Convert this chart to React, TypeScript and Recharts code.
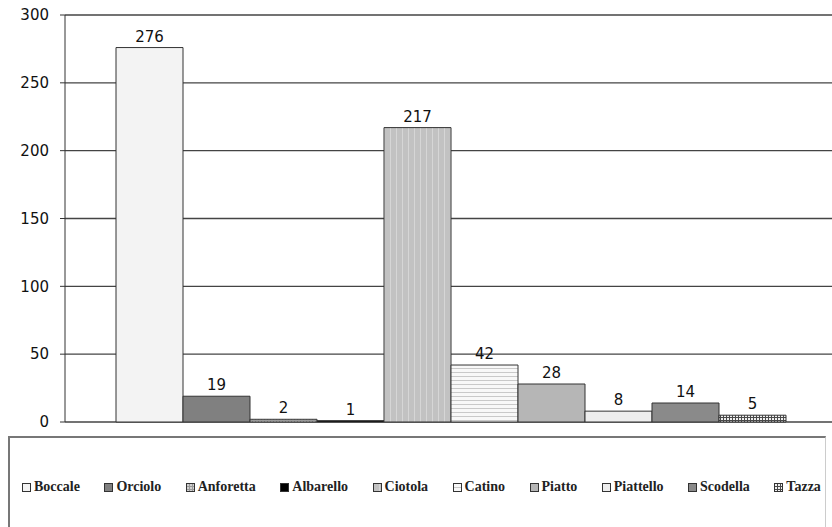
import React from 'react';
import { BarChart, Bar, XAxis, YAxis, CartesianGrid, Legend, LabelList } from 'recharts';

const categories = ['Boccale', 'Orciolo', 'Anforetta', 'Albarello', 'Ciotola', 'Catino', 'Piatto', 'Piattello', 'Scodella', 'Tazza'];
const values = [276, 19, 2, 1, 217, 42, 28, 8, 14, 5];
const yTicks = [0, 50, 100, 150, 200, 250, 300];

const fills: Record<string, string> = {
  Boccale: '#f3f3f3',
  Orciolo: '#808080',
  Anforetta: 'url(#patAnf)',
  Albarello: '#000000',
  Ciotola: 'url(#patCio)',
  Catino: 'url(#patCat)',
  Piatto: '#b6b6b6',
  Piattello: '#ededed',
  Scodella: '#8a8a8a',
  Tazza: 'url(#patTaz)',
};

const row: Record<string, number | string> = { name: 'all' };
categories.forEach((c, i) => {
  row[c] = values[i];
});
const data = [row];

const sansFont = '"DejaVu Sans", Verdana, sans-serif';

const LegendBox = () => {
  return (
    <div style={{ paddingTop: 14, width: 832, height: 91, boxSizing: 'content-box' }}>
      <div
        style={{
          marginLeft: 8,
          width: 818,
          height: 100,
          borderLeft: '2px solid #777',
          borderTop: '2px solid #777',
          borderRight: '1px solid #ccc',
          display: 'flex',
          alignItems: 'center',
          paddingLeft: 12,
          boxSizing: 'border-box',
          fontFamily: '"Liberation Serif", "Times New Roman", serif',
          fontWeight: 'bold',
          fontSize: 14,
          color: '#222',
        }}
      >
        {categories.map((c) => (
          <span key={c} style={{ display: 'inline-flex', alignItems: 'center', marginRight: 24.5, whiteSpace: 'nowrap' }}>
            <svg width={9} height={9} style={{ marginRight: 3 }}>
              <rect x={0.5} y={0.5} width={8} height={8} fill={fills[c]} stroke="#333" strokeWidth={1} />
            </svg>
            {c}
          </span>
        ))}
      </div>
    </div>
  );
};

export default function App() {
  return (
    <div style={{ position: 'absolute', left: 0, top: 0, width: 832, height: 527, background: '#fff' }}>
      <BarChart
        width={832}
        height={527}
        data={data}
        margin={{ top: 15, right: 0, bottom: 0, left: 0 }}
        barGap={0}
        barSize={67}
      >
        <defs>
          <pattern id="patCio" width="6" height="6" patternUnits="userSpaceOnUse">
            <rect width="6" height="6" fill="#c2c2c2" />
            <rect x="0" width="1" height="6" fill="#d6d6d6" />
          </pattern>
          <pattern id="patCat" width="4" height="4" patternUnits="userSpaceOnUse">
            <rect width="4" height="4" fill="#f8f8f8" />
            <rect y="0" width="4" height="1" fill="#c9c9c9" />
          </pattern>
          <pattern id="patAnf" width="3" height="3" patternUnits="userSpaceOnUse">
            <rect width="3" height="3" fill="#d0d0d0" />
            <rect width="1" height="3" fill="#9a9a9a" />
            <rect width="3" height="1" fill="#9a9a9a" />
          </pattern>
          <pattern id="patTaz" width="3" height="3" patternUnits="userSpaceOnUse">
            <rect width="3" height="3" fill="#f0f0f0" />
            <rect width="1" height="3" fill="#4a4a4a" />
            <rect width="3" height="1" fill="#4a4a4a" />
          </pattern>
        </defs>
        <CartesianGrid vertical={false} stroke="#444" strokeWidth={1.3} />
        <XAxis dataKey="name" hide padding={{ left: 5, right: 0 }} />
        <YAxis
          width={65}
          domain={[0, 300]}
          ticks={yTicks}
          interval={0}
          axisLine={{ stroke: '#333' }}
          tickLine={{ stroke: '#333' }}
          tickSize={5}
          tickMargin={11}
          tick={{ fill: '#111', fontFamily: sansFont, fontSize: 15 }}
        />
        <Legend verticalAlign="bottom" content={<LegendBox />} wrapperStyle={{ left: 0, bottom: 0, width: 832, height: 105 }} />
        {categories.map((c) => (
          <Bar key={c} dataKey={c} fill={fills[c]} stroke="#333" strokeWidth={1} isAnimationActive={false}>
            <LabelList dataKey={c} position="top" offset={6} fill="#111" fontFamily={sansFont} fontSize={15} />
          </Bar>
        ))}
      </BarChart>
    </div>
  );
}
